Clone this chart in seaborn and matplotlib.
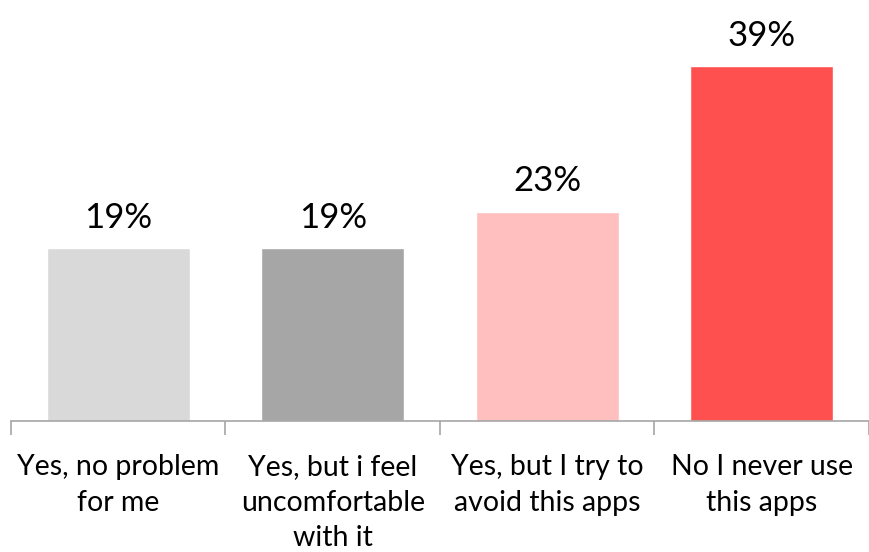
import matplotlib
matplotlib.use("Agg")
import matplotlib.pyplot as plt
import pandas as pd
import seaborn as sns

CATEGORIES = [
    "Yes, no problem\nfor me",
    "Yes, but i feel\nuncomfortable\nwith it",
    "Yes, but I try to\navoid this apps",
    "No I never use\nthis apps",
]
VALUES = [19, 19, 23, 39]
COLORS = ["#d9d9d9", "#a6a6a6", "#ffbfbf", "#ff5050"]


def main() -> None:
    sns.set_theme(style="white")
    plt.rcParams["font.family"] = ["Lato", "DejaVu Sans"]

    df = pd.DataFrame({"answer": CATEGORIES, "pct": VALUES})

    fig = plt.figure(figsize=(8.7, 5.52), dpi=100)
    ax = fig.add_axes([11 / 870, 131 / 552, 858 / 870, 409.5 / 552])
    sns.barplot(data=df, x="answer", y="pct", hue="answer", palette=COLORS,
                legend=False, width=0.667, saturation=1, ax=ax)

    ax.set_ylim(0, 45)
    ax.set_xlim(-0.5, len(CATEGORIES) - 0.5)
    for i, v in enumerate(VALUES):
        ax.text(i, v + 1.6, f"{v}%", ha="center", va="bottom",
                fontsize=25, color="black")

    ax.set_yticks([])
    ax.set_xlabel("")
    ax.set_ylabel("")
    for side in ["top", "right", "left"]:
        ax.spines[side].set_visible(False)
    ax.spines["bottom"].set_color("#a6a6a6")
    ax.spines["bottom"].set_linewidth(1.2)

    # category boundaries as tick marks, labels centred under bars
    ax.set_xticks([i - 0.5 for i in range(len(CATEGORIES) + 1)], minor=False)
    ax.set_xticklabels([])
    ax.set_xticks(range(len(CATEGORIES)), minor=True)
    ax.set_xticklabels(CATEGORIES, minor=True, fontsize=20.5,
                       linespacing=1.45, color="black")
    ax.tick_params(axis="x", which="major", length=10, width=1.2,
                   color="#a6a6a6", direction="out", bottom=True)
    ax.tick_params(axis="x", which="minor", length=0, pad=24, bottom=True)

    fig.savefig("out.png", dpi=100)
    plt.close(fig)


if __name__ == "__main__":
    main()
